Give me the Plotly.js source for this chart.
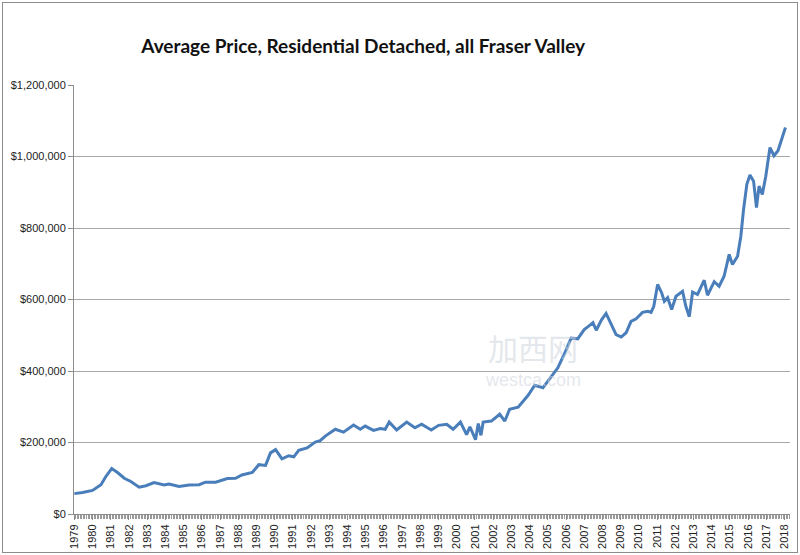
<!DOCTYPE html>
<html>
<head>
<meta charset="utf-8">
<script src="https://cdn.plot.ly/plotly-3.0.1.min.js"></script>
<style>
  html, body { margin: 0; padding: 0; background: #fff; }
  #wrap { position: relative; width: 800px; height: 555px; }
  #chart { width: 800px; height: 555px; }
  #frame { position: absolute; left: 2px; top: 2px; right: 2px; bottom: 2px; border: 1px solid #8c8c8c; pointer-events: none; }
</style>
</head>
<body>
<div id="wrap"><div id="chart"></div><div id="frame"></div></div>
<script>
// Time (decimal year) of each reading
const years = [
  1979.0, 1979.45, 1980.0, 1980.46, 1980.73, 1981.05, 1981.37, 1981.74, 1982.1, 1982.56,
  1982.93, 1983.38, 1983.93, 1984.2, 1984.75, 1985.3, 1985.85, 1986.2, 1986.76, 1987.4,
  1987.85, 1988.2, 1988.77, 1989.13, 1989.5, 1989.77, 1990.05, 1990.4, 1990.77, 1991.05,
  1991.32, 1991.78, 1992.23, 1992.5, 1992.78, 1993.33, 1993.78, 1994.33, 1994.7, 1994.97,
  1995.43, 1995.8, 1996.07, 1996.29, 1996.7, 1997.25, 1997.7, 1998.07, 1998.6, 1999.0,
  1999.45, 1999.8, 2000.2, 2000.54, 2000.72, 2001.03, 2001.18, 2001.33, 2001.45, 2001.9,
  2002.36, 2002.64, 2002.9, 2003.37, 2003.92, 2004.28, 2004.73, 2005.19, 2005.55, 2005.92,
  2006.28, 2006.64, 2007.0, 2007.28, 2007.48, 2007.66, 2007.95, 2008.2, 2008.4, 2008.75,
  2009.03, 2009.3, 2009.57, 2009.85, 2010.2, 2010.5, 2010.67, 2010.82, 2011.03, 2011.25,
  2011.4, 2011.58, 2011.8, 2012.04, 2012.4, 2012.58, 2012.77, 2012.95, 2013.22, 2013.59,
  2013.77, 2014.14, 2014.41, 2014.68, 2014.96, 2015.14, 2015.42, 2015.6, 2015.75, 2015.93,
  2016.1, 2016.3, 2016.46, 2016.6, 2016.78, 2016.97, 2017.2, 2017.42, 2017.64, 2017.87,
  2018.05
];

// Average price (CAD)
const avgPrice = [
  57000, 60000, 66000, 82000, 105000, 127000, 116000, 100000, 91000, 75000,
  79000, 88000, 81000, 84000, 77000, 81000, 82000, 89000, 89000, 99000,
  100000, 109000, 116000, 138000, 136000, 171000, 180000, 154000, 163000, 160000,
  178000, 185000, 201000, 205000, 218000, 237000, 229000, 249000, 237000, 246000,
  234000, 239000, 237000, 257000, 235000, 257000, 241000, 251000, 235000, 248000,
  251000, 237000, 257000, 222000, 244000, 208000, 253000, 220000, 257000, 260000,
  279000, 260000, 293000, 299000, 332000, 360000, 353000, 386000, 409000, 449000,
  492000, 490000, 516000, 527000, 535000, 514000, 543000, 561000, 539000, 502000,
  495000, 507000, 539000, 546000, 564000, 567000, 564000, 581000, 642000, 619000,
  595000, 605000, 572000, 609000, 623000, 581000, 552000, 621000, 614000, 654000,
  612000, 650000, 637000, 665000, 726000, 698000, 721000, 777000, 852000, 922000,
  948000, 931000, 857000, 917000, 894000, 945000, 1025000, 1002000, 1016000, 1049000,
  1081000
];

// X tick labels (one per year)
const yearLabels = [];
for (let y = 1979; y <= 2018; y++) yearLabels.push(String(y));
const yearTicks = yearLabels.map(Number);

const yTicks = [0, 200000, 400000, 600000, 800000, 1000000, 1200000];

const titleText = 'Average Price, Residential Detached, all Fraser Valley';

const trace = {
  x: years,
  y: avgPrice,
  type: 'scatter',
  mode: 'lines',
  line: { color: '#4a7ebb', width: 3 },
  hoverinfo: 'skip'
};

const layout = {
  width: 800,
  height: 555,
  margin: { l: 74, r: 10, t: 85, b: 41 },
  paper_bgcolor: '#ffffff',
  plot_bgcolor: '#ffffff',
  showlegend: false,
  font: { family: 'Liberation Sans, Arial, sans-serif', size: 11, color: '#222' },
  title: {
    text: '<b>' + titleText + '</b>',
    font: { family: 'Lato, Open Sans, sans-serif', size: 19, color: '#111' },
    x: 0.454, xanchor: 'center', xref: 'container',
    y: 0.917, yanchor: 'middle', yref: 'container'
  },
  xaxis: {
    range: [1978.98, 2018.3],
    tickmode: 'array',
    tickvals: yearTicks,
    ticktext: yearLabels,
    tickangle: -90,
    ticks: 'outside',
    ticklen: 5,
    tickcolor: '#8c8c8c',
    tickfont: { size: 11, color: '#222' },
    minor: { dtick: 1 / 12, tick0: 1979, ticks: 'outside', ticklen: 4, tickcolor: '#9a9a9a', showgrid: false },
    showgrid: false,
    zeroline: false,
    showline: true,
    linecolor: '#8c8c8c',
    linewidth: 1,
    fixedrange: true
  },
  yaxis: {
    range: [0, 1200000],
    tickmode: 'array',
    tickvals: yTicks,
    tickformat: '$,.0f',
    ticks: 'outside',
    ticklen: 5,
    tickcolor: '#8c8c8c',
    tickfont: { size: 11, color: '#222' },
    showgrid: true,
    gridcolor: '#a8a8a8',
    gridwidth: 1,
    zeroline: false,
    showline: true,
    linecolor: '#8c8c8c',
    linewidth: 1,
    fixedrange: true
  },
  annotations: [
    { text: '加西网', xref: 'paper', yref: 'paper', x: 0.641, y: 0.333, showarrow: false,
      font: { family: 'Noto Sans CJK SC', size: 30, color: 'rgba(205,210,220,0.55)' } },
    { text: 'westca.com', xref: 'paper', yref: 'paper', x: 0.641, y: 0.284, showarrow: false,
      font: { family: 'Liberation Sans', size: 18, color: 'rgba(205,210,220,0.55)' } }
  ]
};

Plotly.newPlot('chart', [trace], layout, { displayModeBar: false, staticPlot: true });
</script>
</body>
</html>
